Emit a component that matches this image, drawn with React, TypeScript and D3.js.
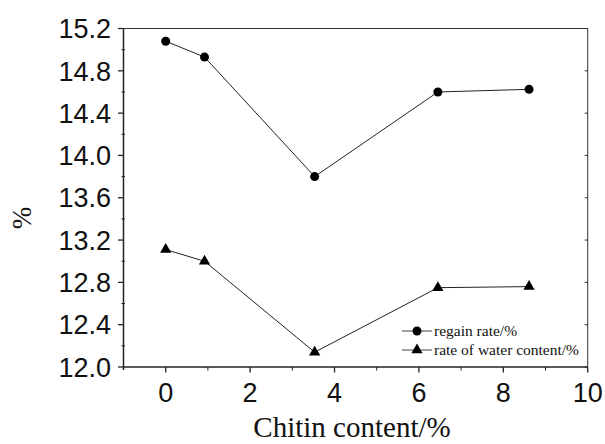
import React, { useRef, useEffect } from "react";
import * as d3 from "d3";

// chitin content (%) on x
const chitin = [0, 0.92, 3.53, 6.45, 8.61];
// series values
const regainRate = [15.08, 14.93, 13.8, 14.6, 14.625];
const waterContent = [13.11, 13.0, 12.14, 12.75, 12.76];

const xTicks = [0, 2, 4, 6, 8, 10];
const xMinor = [1, 3, 5, 7, 9];
const yTicks = [12.0, 12.4, 12.8, 13.2, 13.6, 14.0, 14.4, 14.8, 15.2];
const yMinor = [12.2, 12.6, 13.0, 13.4, 13.8, 14.2, 14.6, 15.0];

const seriesNames = ["regain rate/%", "rate of water content/%"];

function App() {
  const svgRef = useRef<SVGSVGElement>(null);

  useEffect(() => {
    const svg = d3.select(svgRef.current);
    svg.selectAll("*").remove();

    const left = 123.5, right = 587.7, top = 28.5, bottom = 367;
    const sans = "'Liberation Sans', Arial, sans-serif";
    const serif = "'Liberation Serif', 'Times New Roman', serif";

    const x = d3.scaleLinear().domain([-1, 10]).range([left, right]);
    const y = d3.scaleLinear().domain([12.0, 15.2]).range([bottom, top]);

    // frame (top and right thin)
    svg.append("line").attr("x1", left).attr("x2", right).attr("y1", top).attr("y2", top)
      .attr("stroke", "#333").attr("stroke-width", 1);
    svg.append("line").attr("x1", right).attr("x2", right).attr("y1", top).attr("y2", bottom)
      .attr("stroke", "#333").attr("stroke-width", 1);

    // right axis small inward ticks
    yTicks.forEach((t) => {
      svg.append("line").attr("x1", right - 3).attr("x2", right).attr("y1", y(t)).attr("y2", y(t))
        .attr("stroke", "#333").attr("stroke-width", 1);
    });

    // left axis
    svg.append("line").attr("x1", left).attr("x2", left).attr("y1", top).attr("y2", bottom + 3)
      .attr("stroke", "#222").attr("stroke-width", 1.5);
    yTicks.forEach((t) => {
      svg.append("line").attr("x1", left - 5.5).attr("x2", left).attr("y1", y(t)).attr("y2", y(t))
        .attr("stroke", "#222").attr("stroke-width", 1.3);
      svg.append("text").attr("x", 111).attr("y", y(t)).attr("dy", "0.36em")
        .attr("text-anchor", "end").attr("font-family", sans).attr("font-size", 27)
        .attr("fill", "#111").text(t.toFixed(1));
    });
    yMinor.forEach((t) => {
      svg.append("line").attr("x1", left - 2).attr("x2", left + 1.5).attr("y1", y(t)).attr("y2", y(t))
        .attr("stroke", "#222").attr("stroke-width", 1);
    });

    // bottom axis
    svg.append("line").attr("x1", left).attr("x2", right).attr("y1", bottom).attr("y2", bottom)
      .attr("stroke", "#222").attr("stroke-width", 1.5);
    xTicks.forEach((t) => {
      svg.append("line").attr("x1", x(t)).attr("x2", x(t)).attr("y1", bottom).attr("y2", bottom + 5.5)
        .attr("stroke", "#222").attr("stroke-width", 1.3);
      svg.append("text").attr("x", x(t)).attr("y", 402)
        .attr("text-anchor", "middle").attr("font-family", sans).attr("font-size", 27)
        .attr("fill", "#111").text(String(t));
    });
    xMinor.forEach((t) => {
      svg.append("line").attr("x1", x(t)).attr("x2", x(t)).attr("y1", bottom).attr("y2", bottom + 3.5)
        .attr("stroke", "#222").attr("stroke-width", 1);
    });

    // axis titles
    svg.append("text").attr("x", 352).attr("y", 437).attr("text-anchor", "middle")
      .attr("font-family", serif).attr("font-size", 29).attr("fill", "#111")
      .text("Chitin content/%");
    svg.append("text").attr("transform", "translate(22,218) rotate(-90)")
      .attr("text-anchor", "middle").attr("dy", "0.35em")
      .attr("font-family", serif).attr("font-size", 27).attr("fill", "#111").text("%");

    const line = d3.line<number>().x((_, i) => x(chitin[i])).y((d) => y(d));

    // regain rate series
    svg.append("path").datum(regainRate).attr("d", line).attr("fill", "none")
      .attr("stroke", "#222").attr("stroke-width", 1);
    svg.selectAll(".dot").data(regainRate).enter().append("circle")
      .attr("cx", (_, i) => x(chitin[i])).attr("cy", (d) => y(d)).attr("r", 4.5).attr("fill", "#000");

    // water content series
    const tri = d3.symbol().type(d3.symbolTriangle).size(55);
    svg.append("path").datum(waterContent).attr("d", line).attr("fill", "none")
      .attr("stroke", "#222").attr("stroke-width", 1);
    svg.selectAll(".tri").data(waterContent).enter().append("path")
      .attr("d", tri)
      .attr("transform", (d, i) => `translate(${x(chitin[i])},${y(d)})`).attr("fill", "#000");

    // legend
    const lx = 402, lw = 30;
    [331, 350].forEach((ly, k) => {
      svg.append("line").attr("x1", lx).attr("x2", lx + lw).attr("y1", ly).attr("y2", ly)
        .attr("stroke", "#444").attr("stroke-width", 1);
      if (k === 0) {
        svg.append("circle").attr("cx", lx + lw / 2).attr("cy", ly).attr("r", 4.5).attr("fill", "#000");
      } else {
        svg.append("path").attr("d", tri).attr("transform", `translate(${lx + lw / 2},${ly})`).attr("fill", "#000");
      }
      svg.append("text").attr("x", lx + lw + 2).attr("y", ly).attr("dy", "0.32em")
        .attr("font-family", serif).attr("font-size", 15.5).attr("fill", "#111").text(seriesNames[k]);
    });
  }, []);

  return (
    <svg ref={svgRef} width={605} height={444} style={{ position: "absolute", left: 0, top: 0, background: "#fff" }} />
  );
}

export default App;
